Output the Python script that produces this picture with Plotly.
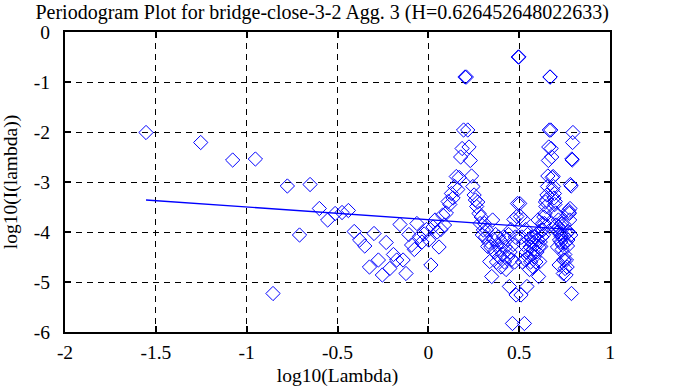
import plotly.graph_objects as go

# log10(Lambda) for each periodogram frequency (k = 1..224)
x_vals = [
    -1.554, -1.253, -1.077, -0.952, -0.855, -0.776, -0.709, -0.651, -0.600, -0.554,
    -0.513, -0.475, -0.440, -0.408, -0.378, -0.350, -0.324, -0.299, -0.275, -0.253,
    -0.232, -0.212, -0.192, -0.174, -0.156, -0.139, -0.123, -0.107, -0.092, -0.077,
    -0.063, -0.049, -0.035, -0.023, -0.010, 0.002, 0.014, 0.026, 0.037, 0.048,
    0.059, 0.069, 0.079, 0.089, 0.099, 0.109, 0.118, 0.127, 0.136, 0.145,
    0.154, 0.162, 0.170, 0.178, 0.186, 0.194, 0.202, 0.209, 0.217, 0.224,
    0.231, 0.238, 0.245, 0.252, 0.259, 0.266, 0.272, 0.279, 0.285, 0.291,
    0.297, 0.303, 0.309, 0.315, 0.321, 0.327, 0.332, 0.338, 0.344, 0.349,
    0.354, 0.360, 0.365, 0.370, 0.375, 0.380, 0.386, 0.390, 0.395, 0.400,
    0.405, 0.410, 0.414, 0.419, 0.424, 0.428, 0.433, 0.437, 0.442, 0.446,
    0.450, 0.455, 0.459, 0.463, 0.467, 0.471, 0.475, 0.479, 0.483, 0.487,
    0.491, 0.495, 0.499, 0.503, 0.507, 0.510, 0.514, 0.518, 0.522, 0.525,
    0.529, 0.532, 0.536, 0.539, 0.543, 0.546, 0.550, 0.553, 0.557, 0.560,
    0.563, 0.567, 0.570, 0.573, 0.576, 0.580, 0.583, 0.586, 0.589, 0.592,
    0.595, 0.598, 0.601, 0.604, 0.607, 0.610, 0.613, 0.616, 0.619, 0.622,
    0.625, 0.628, 0.631, 0.634, 0.636, 0.639, 0.642, 0.645, 0.647, 0.650,
    0.653, 0.656, 0.658, 0.661, 0.663, 0.666, 0.669, 0.671, 0.674, 0.676,
    0.679, 0.682, 0.684, 0.687, 0.689, 0.692, 0.694, 0.696, 0.699, 0.701,
    0.704, 0.706, 0.708, 0.711, 0.713, 0.716, 0.718, 0.720, 0.722, 0.725,
    0.727, 0.729, 0.732, 0.734, 0.736, 0.738, 0.740, 0.743, 0.745, 0.747,
    0.749, 0.751, 0.753, 0.756, 0.758, 0.760, 0.762, 0.764, 0.766, 0.768,
    0.770, 0.772, 0.774, 0.776, 0.778, 0.780, 0.782, 0.784, 0.786, 0.788,
    0.790, 0.792, 0.794, 0.796,
]

# log10(I(lambda)) for each frequency
y_vals = [
    -2.01, -2.21, -2.56, -2.54, -5.23, -3.08, -4.06, -3.05, -3.53, -3.76,
    -3.63, -3.61, -3.57, -3.99, -4.16, -4.28, -4.70, -4.03, -4.56, -4.86,
    -4.21, -4.73, -4.45, -4.56, -3.85, -4.56, -4.83, -4.05, -4.26, -4.35,
    -3.83, -4.09, -4.20, -4.04, -3.95, -4.16, -4.66, -3.90, -3.76, -4.00,
    -4.30, -3.95, -3.66, -3.86, -3.62, -3.39, -3.45, -3.23, -3.32, -3.09,
    -2.89, -3.15, -2.91, -2.50, -2.33, -1.96, -0.90, -0.90, -1.96, -2.30,
    -2.57, -2.88, -3.09, -3.26, -3.36, -3.49, -3.40, -3.63, -3.83, -3.70,
    -4.06, -3.96, -3.83, -4.10, -3.96, -4.29, -4.20, -4.59, -4.30, -4.89,
    -3.76, -4.15, -4.40, -4.05, -4.60, -4.25, -4.10, -4.50, -4.35, -4.70,
    -4.20, -4.45, -4.10, -4.60, -4.30, -4.75, -4.15, -4.50, -4.05, -5.09,
    -4.40, -3.95, -4.55, -5.83, -4.25, -3.75, -4.60, -4.10, -5.26, -3.69,
    -3.43, -0.50,
    -0.50, -3.43, -3.69, -5.26, -4.10, -4.60, -3.75, -4.25, -5.83, -4.55,
    -3.95, -4.40, -5.09, -4.05, -4.50, -4.15, -4.75, -4.30, -4.60, -4.10,
    -4.45, -4.20, -4.70, -4.35, -4.50, -4.10, -4.25, -4.60, -4.05, -4.40,
    -4.15, -3.76, -4.89, -4.30, -4.59, -4.20, -4.29, -3.96, -4.10, -3.83,
    -3.96, -4.06, -3.70, -3.83, -3.63, -3.40, -3.49, -3.36, -3.26, -3.09,
    -2.88, -2.57, -2.30, -1.96, -0.90, -0.90, -1.96, -2.33, -2.50, -2.91,
    -3.15, -2.89, -3.09, -3.32, -3.23, -3.45, -3.39, -3.62, -3.86, -3.66,
    -3.95, -4.30, -4.00, -3.76, -3.90, -4.66, -4.16, -3.95, -4.04, -4.20,
    -4.09, -3.83, -4.35, -4.26, -4.05, -4.83, -4.56, -3.85, -4.56, -4.45,
    -4.73, -4.21, -4.86, -4.56, -4.03, -4.70, -4.28, -4.16, -3.99, -3.57,
    -3.61, -3.63, -3.76, -3.53, -3.05, -4.06, -3.08, -5.23, -2.54, -2.56,
    -2.21, -2.01,
]

# least-squares fit line end points
fit_x = [-1.554, 0.796]
fit_y = [-3.36, -3.954]

x_ticks = [-2, -1.5, -1, -0.5, 0, 0.5, 1]
x_tick_text = ["-2", "-1.5", "-1", "-0.5", "0", "0.5", "1"]
y_ticks = [-6, -5, -4, -3, -2, -1, 0]
y_tick_text = ["-6", "-5", "-4", "-3", "-2", "-1", "0"]

title_text = "Periodogram Plot for bridge-close-3-2 Agg. 3 (H=0.626452648022633)"

BLUE = "#0000ff"
FONT = "Liberation Serif, Times New Roman, serif"
FS = 19.5

fig = go.Figure()
fig.add_trace(go.Scatter(
    x=x_vals, y=y_vals, mode="markers",
    marker=dict(symbol="diamond-open", size=11, color=BLUE, line=dict(width=1, color=BLUE)),
    showlegend=False, hoverinfo="skip",
))
fig.add_trace(go.Scatter(
    x=fit_x, y=fit_y, mode="lines",
    line=dict(color=BLUE, width=1.3),
    showlegend=False, hoverinfo="skip",
))

axis_common = dict(
    showline=True, linecolor="black", linewidth=2, mirror="allticks",
    ticks="inside", ticklen=6, tickwidth=2, tickcolor="black",
    showgrid=True, gridcolor="black", gridwidth=1, griddash="6px,5px",
    zeroline=False, automargin=False,
    tickfont=dict(family=FONT, size=FS, color="black"),
)

fig.update_layout(
    width=674, height=387,
    margin=dict(l=65, r=64, t=32, b=55),
    paper_bgcolor="white", plot_bgcolor="white",
    title=dict(text=title_text, xref="container", x=0.478, xanchor="center",
               yref="container", y=0.969, yanchor="middle",
               font=dict(family=FONT, size=20, color="black")),
    xaxis=dict(range=[-2, 1], tickvals=x_ticks, ticktext=x_tick_text,
               ticklabelstandoff=2,
               title=dict(text="log10(Lambda)", standoff=6,
                          font=dict(family=FONT, size=FS, color="black")),
               **axis_common),
    yaxis=dict(range=[-6, 0], tickvals=y_ticks, ticktext=y_tick_text,
               ticklabelstandoff=9,
               title=dict(text="log10(I(lambda))", standoff=12,
                          font=dict(family=FONT, size=FS, color="black")),
               **axis_common),
)

fig.write_html("out.html", config={"displayModeBar": False},
               post_script="document.body.style.margin='0';")
